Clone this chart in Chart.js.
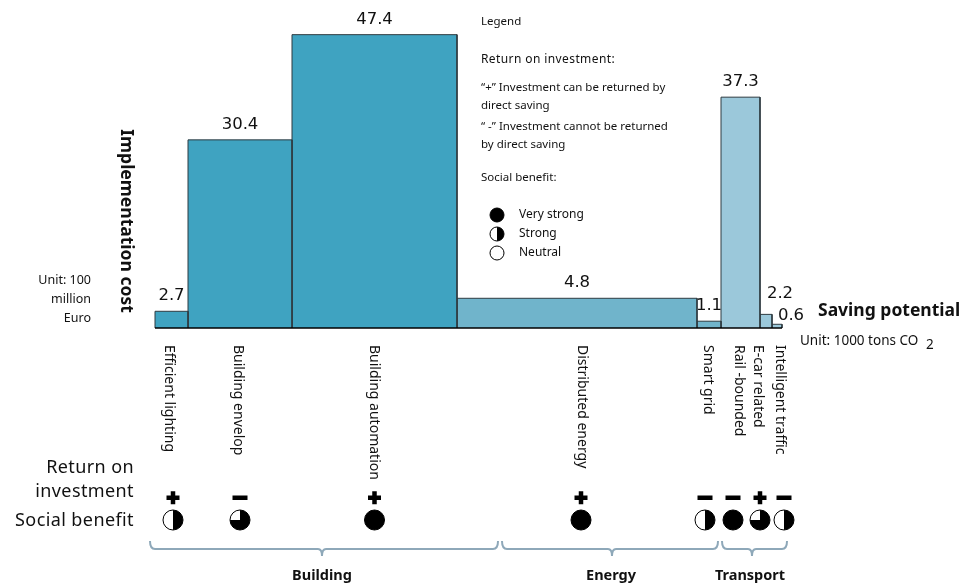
<!DOCTYPE html>
<html>
<head>
<meta charset="utf-8">
<script src="https://cdn.jsdelivr.net/npm/chart.js@4"></script>
<style>
  body { margin: 0; background: #fff; }
  #wrap { width: 970px; height: 585px; }
</style>
</head>
<body>
<div id="wrap"><canvas id="costChart" width="970" height="585"></canvas></div>
<script>
// measures, in the order they appear from left to right
const categories = ['Efficient lighting', 'Building envelop', 'Building automation', 'Distributed energy',
    'Smart grid', 'Rail -bounded', 'E-car related', 'Intelligent traffic'];
const sectors = ['Building', 'Building', 'Building', 'Energy', 'Energy', 'Transport', 'Transport', 'Transport'];
// bar height: implementation cost (100 million Euro)
const implementationCost = [2.7, 30.4, 47.4, 4.8, 1.1, 37.3, 2.2, 0.6];
// bar width: saving potential (1000 tons CO2)
const savingPotential = [3.3, 10.4, 16.5, 24.0, 2.4, 3.9, 1.2, 1.0];
// "+" can be returned by direct saving, "-" cannot
const returnOnInvestment = ['+', '-', '+', '+', '-', '-', '+', '-'];
// social benefit in quarters of a filled circle (4 = very strong, 2 = strong, 0 = neutral)
const socialBenefit = [2, 3, 4, 4, 2, 4, 3, 2];

const sectorColors = { Building: '#3fa3c1', Energy: '#70b4cb', Transport: '#9bc8da' };
const font = '"Noto Sans", sans-serif';

// build one closed outline per bar so each can have its own width
let start = 0;
const datasets = categories.map((name, i) => {
    const end = start + savingPotential[i];
    const h = implementationCost[i];
    const ds = {
        label: name,
        data: [{x: start, y: 0}, {x: start, y: h}, {x: end, y: h}, {x: end, y: 0}],
        backgroundColor: sectorColors[sectors[i]],
        borderColor: '#2e3b41',
        borderWidth: 1,
        fill: 'origin',
        pointRadius: 0,
        tension: 0,
        clip: false
    };
    start = end;
    return ds;
});
const totalSaving = start;

function txt(ctx, s, x, y, f, align, base) {
    ctx.font = f;
    ctx.textAlign = align || 'left';
    ctx.textBaseline = base || 'middle';
    ctx.fillText(s, x, y);
}

function drawCircle(ctx, cx, cy, r, quarters) {
    ctx.beginPath();
    ctx.arc(cx, cy, r, 0, Math.PI * 2);
    ctx.fillStyle = '#fff';
    ctx.fill();
    if (quarters > 0) {
        ctx.beginPath();
        ctx.moveTo(cx, cy);
        ctx.arc(cx, cy, r, -Math.PI / 2, -Math.PI / 2 + quarters * Math.PI / 2);
        ctx.closePath();
        ctx.fillStyle = '#000';
        ctx.fill();
    }
    ctx.beginPath();
    ctx.arc(cx, cy, r, 0, Math.PI * 2);
    ctx.strokeStyle = '#000';
    ctx.lineWidth = 1;
    ctx.stroke();
}

function drawBrace(ctx, x0, x1, xc, y) {
    ctx.beginPath();
    ctx.moveTo(x0, y - 8);
    ctx.quadraticCurveTo(x0, y, x0 + 5, y);
    ctx.lineTo(xc - 4, y);
    ctx.quadraticCurveTo(xc, y, xc, y + 7);
    ctx.quadraticCurveTo(xc, y, xc + 4, y);
    ctx.lineTo(x1 - 5, y);
    ctx.quadraticCurveTo(x1, y, x1, y - 8);
    ctx.strokeStyle = '#8ea8b9';
    ctx.lineWidth = 2;
    ctx.stroke();
}

// small nudges so labels of the narrow transport bars do not collide
const valueShift = [[0, 0], [0, 0], [0, 0], [0, 0], [0, 0], [0, 0], [14, -5], [14, 7]];
const nameShift = [-3, -2, -1, 5, -1, -2, -8, 3];
const symbolShift = [1.5, 0, 0, 4, -4, -7.5, -6, 7];

const annotations = {
    id: 'annotations',
    afterDraw(chart) {
        const ctx = chart.ctx;
        const xs = chart.scales.x, ys = chart.scales.y;
        ctx.save();

        // baseline
        ctx.beginPath();
        ctx.moveTo(xs.getPixelForValue(0), ys.getPixelForValue(0));
        ctx.lineTo(xs.getPixelForValue(totalSaving), ys.getPixelForValue(0));
        ctx.strokeStyle = '#000';
        ctx.lineWidth = 1.5;
        ctx.stroke();

        let acc = 0;
        categories.forEach((name, i) => {
            const cx = xs.getPixelForValue(acc + savingPotential[i] / 2);
            acc += savingPotential[i];
            const top = ys.getPixelForValue(implementationCost[i]);
            ctx.fillStyle = '#111';
            txt(ctx, String(implementationCost[i]), cx + valueShift[i][0], top - 7 + valueShift[i][1],
                '16.5px "DejaVu Sans", sans-serif', 'center', 'bottom');

            // category name, reading downwards
            ctx.save();
            ctx.translate(cx + nameShift[i], 345);
            ctx.rotate(Math.PI / 2);
            ctx.fillStyle = '#111';
            txt(ctx, name, 0, 0, '14px ' + font, 'left', 'middle');
            ctx.restore();

            // return on investment sign
            const sx = cx + symbolShift[i];
            ctx.fillStyle = '#000';
            if (returnOnInvestment[i] === '+') {
                ctx.fillRect(sx - 6.5, 495.5, 13, 4.5);
                ctx.fillRect(sx - 2.25, 491.25, 4.5, 13);
            } else {
                ctx.fillRect(sx - 7.5, 495.5, 15, 4.5);
            }
            drawCircle(ctx, sx, 520, 10, socialBenefit[i]);
        });

        // axis titles and units
        ctx.fillStyle = '#111';
        ctx.save();
        ctx.translate(126, 221);
        ctx.rotate(Math.PI / 2);
        txt(ctx, 'Implementation cost', 0, 0, 'bold 17.5px ' + font, 'center', 'middle');
        ctx.restore();
        txt(ctx, 'Unit: 100', 91, 280, '12.5px ' + font, 'right');
        txt(ctx, 'million', 91, 299, '12.5px ' + font, 'right');
        txt(ctx, 'Euro', 91, 318, '12.5px ' + font, 'right');
        txt(ctx, 'Saving potential', 818, 311, 'bold 17.5px ' + font, 'left');
        txt(ctx, 'Unit: 1000 tons CO', 800, 341, '13.5px ' + font, 'left');
        txt(ctx, '2', 926, 345, '13.5px ' + font, 'left');

        ctx.letterSpacing = '0.4px';
        txt(ctx, 'Return on', 134, 468, '18px ' + font, 'right');
        txt(ctx, 'investment', 134, 492, '18px ' + font, 'right');
        txt(ctx, 'Social benefit', 134, 521, '18px ' + font, 'right');
        ctx.letterSpacing = '0px';

        // sector braces
        drawBrace(ctx, 150, 498, 322, 549);
        drawBrace(ctx, 502, 718, 612, 549);
        drawBrace(ctx, 722, 787, 752, 549);
        ctx.fillStyle = '#111';
        txt(ctx, 'Building', 322, 576, 'bold 14.5px ' + font, 'center');
        txt(ctx, 'Energy', 611, 576, 'bold 14.5px ' + font, 'center');
        txt(ctx, 'Transport', 750, 576, 'bold 14.5px ' + font, 'center');

        // legend text block
        txt(ctx, 'Legend', 481, 22, '11.5px ' + font);
        ctx.letterSpacing = '0.4px';
        txt(ctx, 'Return on investment:', 481, 60, '12px ' + font);
        ctx.letterSpacing = '0px';
        txt(ctx, '\u201c+\u201d Investment can be returned by', 481, 88, '11.5px ' + font);
        txt(ctx, 'direct saving', 481, 106, '11.5px ' + font);
        txt(ctx, '\u201c -\u201d Investment cannot be returned', 481, 127, '11.5px ' + font);
        txt(ctx, 'by direct saving', 481, 145, '11.5px ' + font);
        txt(ctx, 'Social benefit:', 481, 178, '11.5px ' + font);
        const legendItems = [['Very strong', 4], ['Strong', 2], ['Neutral', 0]];
        legendItems.forEach((item, k) => {
            const y = 215 + k * 19;
            drawCircle(ctx, 497, y, 7, item[1]);
            ctx.fillStyle = '#111';
            txt(ctx, item[0], 519, y, '12px ' + font);
        });

        ctx.restore();
    }
};

new Chart(document.getElementById('costChart'), {
    type: 'line',
    data: { datasets: datasets },
    options: {
        responsive: false,
        animation: false,
        layout: { padding: { left: 155, right: 188, top: 0, bottom: 257 } },
        scales: {
            x: { type: 'linear', min: 0, max: totalSaving, display: false },
            y: { type: 'linear', min: 0, max: 53, display: false }
        },
        plugins: {
            legend: { display: false },
            tooltip: { enabled: false }
        }
    },
    plugins: [annotations]
});
</script>
</body>
</html>
